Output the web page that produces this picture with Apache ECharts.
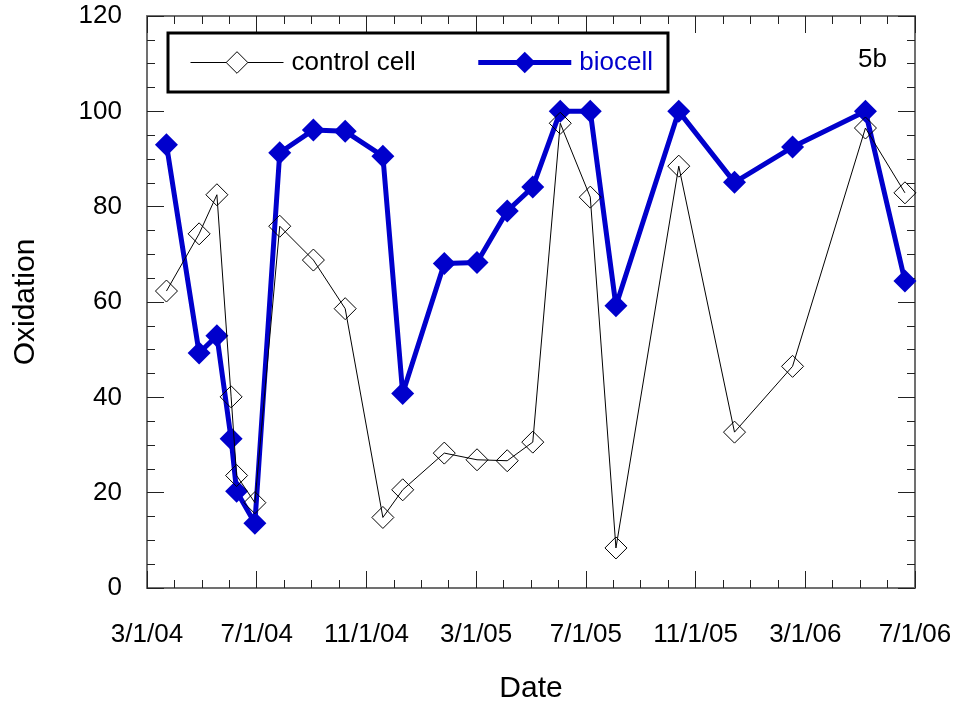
<!DOCTYPE html>
<html>
<head>
<meta charset="utf-8">
<script src="https://cdn.jsdelivr.net/npm/echarts@6/dist/echarts.min.js"></script>
<style>
html,body{margin:0;padding:0;background:#fff;}
#chart{width:957px;height:709px;}
</style>
</head>
<body>
<div id="chart"></div>
<script>
const dates = ['2004-03-23','2004-04-28','2004-05-18','2004-06-03','2004-06-09','2004-06-29','2004-07-27','2004-09-03','2004-10-08','2004-11-19','2004-12-11','2005-01-27','2005-03-02','2005-04-05','2005-05-03','2005-06-03','2005-07-06','2005-08-04','2005-10-13','2005-12-14','2006-02-16','2006-05-07','2006-06-20'];
const biocell = [93, 49.3, 52.9, 31.3, 20.3, 13.6, 91.3, 96.1, 95.8, 90.6, 40.8, 68.1, 68.3, 79.1, 84.1, 100, 100, 59.2, 100, 85.1, 92.5, 100, 64.4];
const controlCell = [62.3, 74.3, 82.5, 40.1, 23.6, 17.9, 75.9, 68.8, 58.6, 14.8, 20.6, 28.3, 26.9, 26.7, 30.6, 97.5, 82.0, 8.4, 88.5, 32.7, 46.5, 96.5, 82.9];
const xTickLabels = ['3/1/04','7/1/04','11/1/04','3/1/05','7/1/05','11/1/05','3/1/06','7/1/06'];
const yTickLabels = ['0','20','40','60','80','100','120'];

// convert a date to fractional months since 3/1/04
function monthsSince(d) {
  const [y, m, day] = d.split('-').map(Number);
  const dim = new Date(y, m, 0).getDate();
  return (y - 2004) * 12 + (m - 3) + (day - 1) / dim;
}
const xs = dates.map(monthsSince);
const bioData = xs.map((x, i) => [x, biocell[i]]);
const ctrlData = xs.map((x, i) => [x, controlCell[i]]);

const FONT = "'Liberation Sans', Arial, sans-serif";
const BLUE = '#0000CC';
const axisLine = {show: true, onZero: false, lineStyle: {color: '#707070', width: 2}};
const tick = {inside: true, length: 17, lineStyle: {color: '#222', width: 1}};
const minor = {show: true, splitNumber: 4, length: 8, lineStyle: {color: '#222', width: 1}};

const chart = echarts.init(document.getElementById('chart'));
chart.setOption({
  animation: false,
  backgroundColor: '#fff',
  grid: {left: 147, right: 42, top: 16, bottom: 119},
  legend: {
    left: 168, top: 33,
    orient: 'horizontal',
    padding: [16, 15, 16, 22],
    itemGap: 60,
    itemWidth: 93, itemHeight: 27,
    borderColor: '#000', borderWidth: 3,
    textStyle: {fontFamily: FONT, fontSize: 26, padding: [0, 0, 0, 3], lineHeight: 27},
    data: [
      {name: 'control cell', textStyle: {color: '#000'}, lineStyle: {width: 1, color: '#000'},
        itemStyle: {color: '#fff', borderColor: '#000', borderWidth: 1}},
      {name: 'biocell', textStyle: {color: BLUE}, lineStyle: {width: 5, color: BLUE}}
    ]
  },
  xAxis: [{
    type: 'value', min: 0, max: 28, interval: 4,
    name: 'Date', nameLocation: 'middle', nameGap: 86,
    nameTextStyle: {fontFamily: FONT, fontSize: 30, color: '#000'},
    axisLine: axisLine, axisTick: tick, minorTick: minor,
    splitLine: {show: false},
    axisLabel: {fontFamily: FONT, fontSize: 26, color: '#000', margin: 34,
      formatter: v => xTickLabels[Math.round(v / 4)] || ''}
  }, {
    type: 'value', min: 0, max: 28, interval: 4, position: 'top',
    axisLine: axisLine, axisTick: tick, minorTick: minor,
    splitLine: {show: false}, axisLabel: {show: false}
  }],
  yAxis: [{
    type: 'value', min: 0, max: 120, interval: 20,
    name: 'Oxidation', nameLocation: 'middle', nameGap: 106, nameRotate: 90,
    nameTextStyle: {fontFamily: FONT, fontSize: 30, color: '#000'},
    axisLine: axisLine, axisTick: tick, minorTick: minor,
    splitLine: {show: false},
    axisLabel: {fontFamily: FONT, fontSize: 26, color: '#000', margin: 25, padding: [8, 0, 0, 0],
      formatter: v => yTickLabels[Math.round(v / 20)] || ''}
  }, {
    type: 'value', min: 0, max: 120, interval: 20, position: 'right',
    axisLine: axisLine, axisTick: tick, minorTick: minor,
    splitLine: {show: false}, axisLabel: {show: false}
  }],
  graphic: [{
    type: 'text', left: 858, top: 47,
    style: {text: '5b', fontFamily: FONT, fontSize: 26, fill: '#000'}
  }],
  series: [{
    name: 'biocell', type: 'line', data: bioData, z: 2,
    symbol: 'diamond', symbolSize: 23,
    lineStyle: {color: BLUE, width: 5},
    itemStyle: {color: BLUE, borderColor: BLUE, borderWidth: 0}
  }, {
    name: 'control cell', type: 'line', data: ctrlData, z: 3,
    symbol: 'diamond', symbolSize: 22,
    lineStyle: {color: '#000', width: 1},
    itemStyle: {color: 'rgba(255,255,255,0)', borderColor: '#000', borderWidth: 1}
  }]
});
</script>
</body>
</html>
